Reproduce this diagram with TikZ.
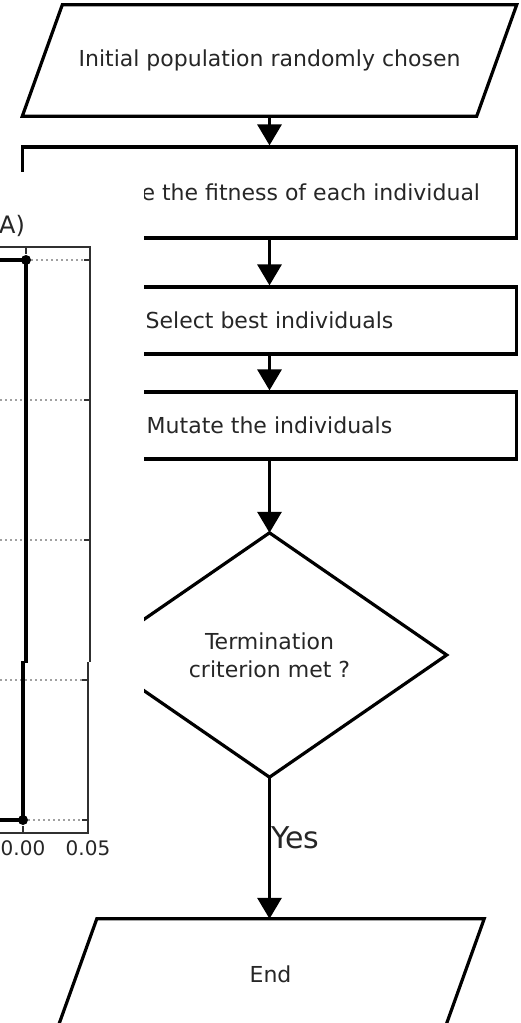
\documentclass[tikz,border=0pt]{standalone}
\usepackage{fontspec}
\setmainfont{DejaVu Sans}
\usetikzlibrary{arrows.meta}
\definecolor{txt}{HTML}{262626}
\definecolor{grid}{HTML}{A0A0A0}
\definecolor{axis}{HTML}{303030}
\newcommand\flowfont{\fontsize{22}{28}\selectfont}
\newcommand\yesfont{\fontsize{30}{34}\selectfont}
\newcommand\tickfont{\fontsize{20}{24}\selectfont}
\begin{document}
\begin{tikzpicture}[x=1pt,y=-1pt,
  hidden/.style={draw=none, inner sep=0pt, text=txt, font=\flowfont, align=center},
  proc/.style={draw=black, line width=3.2pt, inner sep=0pt, text=txt, font=\flowfont, minimum width=494pt},
  outline/.style={draw=black, line width=3.2pt, line join=miter},
  conn/.style={draw=black, line width=3.2pt, -{Triangle[length=21pt,width=24pt]}},
  gridline/.style={draw=grid, line width=1.2pt, dash pattern=on 1.5pt off 3.5pt},
  frame/.style={draw=axis, line width=1.4pt},
  stepline/.style={draw=black, line width=3.4pt},
  ticklabel/.style={inner sep=0pt, text=txt, font=\tickfont}]
\clip (0,0) rectangle (521,1023);
% ---------- flowchart ----------
\node[hidden, minimum width=454pt, minimum height=111pt] (init) at (269.5,60.5) {Initial population randomly chosen};
\draw[outline] ([xshift=20pt]init.north west) -- ([xshift=20pt]init.north east)
  -- ([xshift=-20pt]init.south east) -- ([xshift=-20pt]init.south west) -- cycle;
\node[proc, minimum height=91pt] (eval) at (269.5,192.5) {Evaluate the fitness of each individual};
\node[proc, minimum height=67pt] (select) at (269.5,320.5) {Select best individuals};
\node[proc, minimum height=67pt] (mutate) at (269.5,425.5) {Mutate the individuals};
\node[hidden, minimum width=354pt, minimum height=244pt] (term) at (269.5,655) {Termination\\criterion met ?};
\draw[outline] (term.north) -- (term.east) -- (term.south) -- (term.west) -- cycle;
\node[hidden, minimum width=387pt, minimum height=111pt] (end) at (270.5,974.5) {End};
\draw[outline] ([xshift=20pt]end.north west) -- ([xshift=20pt]end.north east)
  -- ([xshift=-20pt]end.south east) -- ([xshift=-20pt]end.south west) -- cycle;
\draw[conn] (init.south) -- (eval.north);
\draw[conn] (eval.south) -- (select.north);
\draw[conn] (select.south) -- (mutate.north);
\draw[conn] (mutate.south) -- (term.north);
\draw[conn] (term.south) -- (term.south |- end.north)
  node[pos=0.43, anchor=west, inner sep=0pt, text=txt, font=\yesfont] (yes) {Yes};
% ---------- overlaid chart fragment ----------
\fill[white] (0,172) rectangle (144,870);
\node[ticklabel, anchor=west, font=\fontsize{24}{28}\selectfont] (lblA) at (-1,226) {A)};
% grid lines
\draw[gridline] (26,260) -- (90,260);
\draw[gridline] (0,400) -- (90,400);
\draw[gridline] (0,540) -- (90,540);
\draw[gridline] (0,680) -- (88,680);
\draw[gridline] (23,820) -- (88,820);
% frame
\draw[frame] (0,247) -- (90,247) -- (90,662);
\draw[frame] (88,662) -- (88,833) -- (0,833);
\draw[frame] (26,247) -- (26,254);
\draw[frame] (23,826) -- (23,833);
\foreach \yy in {260,400,540} \draw[frame] (84,\yy) -- (90,\yy);
\foreach \yy in {680,820} \draw[frame] (82,\yy) -- (88,\yy);
% step line
\draw[stepline] (0,260) -- (26,260) -- (26,663);
\draw[stepline] (23,661) -- (23,820) -- (0,820);
\fill[black] (26,260) circle (5pt);
\fill[black] (23,820) circle (5pt);
\node[ticklabel] (t0) at (23,848) {0.00};
\node[ticklabel] (t5) at (88,848) {0.05};
\end{tikzpicture}
\end{document}
